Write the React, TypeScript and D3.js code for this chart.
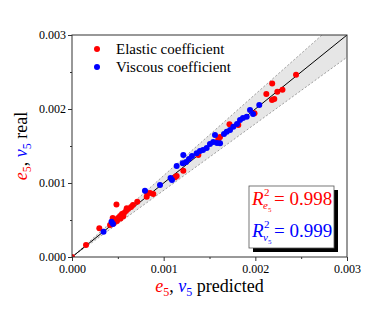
import React, { useRef, useEffect } from 'react';
import * as d3 from 'd3';

// elastic coefficient e5: predicted vs real
const elasticPred = [0, 0.000153, 0.000298, 0.000485, 0.000444, 0.000415, 0.000436, 0.000469, 0.000502, 0.000524,
  0.000545, 0.000567, 0.000589, 0.000611, 0.000644, 0.000597, 0.000665, 0.000712, 0.000815, 0.000821,
  0.000851, 0.000458, 0.000491, 0.00053, 0.00056, 0.000887, 0.001124, 0.001142, 0.001214, 0.001378,
  0.001596, 0.001615, 0.001718, 0.001814, 0.001991, 0.00212, 0.002184, 0.00224, 0.002296, 0.002182,
  0.002207, 0.002444];
const elasticReal = [0, 0.000162, 0.000388, 0.000709, 0.000527, 0.000432, 0.000473, 0.0005, 0.000527, 0.000554,
  0.000581, 0.000595, 0.000622, 0.000649, 0.000676, 0.000658, 0.000703, 0.000747, 0.000815, 0.000861,
  0.000865, 0.000459, 0.000486, 0.00052, 0.00055, 0.000851, 0.001077, 0.001095, 0.001166, 0.001378,
  0.001591, 0.001622, 0.001793, 0.001784, 0.001942, 0.002203, 0.002345, 0.002234, 0.002261, 0.002122,
  0.002135, 0.002464];

// viscous coefficient v5: predicted vs real
const viscousPred = [0.000344, 0.000431, 0.000447, 0.000796, 0.00096, 0.001091, 0.001075, 0.001142, 0.001214, 0.001208,
  0.001244, 0.001276, 0.001309, 0.00136, 0.001396, 0.001429, 0.001469, 0.001505, 0.001541, 0.00156,
  0.001615, 0.001582, 0.001658, 0.001688, 0.001724, 0.00176, 0.0018, 0.001833, 0.001865, 0.001906,
  0.001942, 0.001975, 0.002043];
const viscousReal = [0.000342, 0.000477, 0.000446, 0.000896, 0.000973, 0.001041, 0.001068, 0.00123, 0.001378, 0.001266,
  0.001284, 0.001324, 0.001365, 0.001401, 0.001432, 0.001446, 0.001473, 0.001527, 0.001554, 0.001649,
  0.001537, 0.001541, 0.001662, 0.001693, 0.001716, 0.001761, 0.001797, 0.001851, 0.001878, 0.001896,
  0.001986, 0.001932, 0.002054];

const majorTicks = [0, 0.001, 0.002, 0.003];
const minorTicks = [0.0005, 0.0015, 0.0025];
const bandFactor = [0.9, 1.1];
const legendLabels = ['Elastic coefficient', 'Viscous coefficient'];
const r2Values = ['0.998', '0.999'];

const App = () => {
  const svgRef = useRef<SVGSVGElement>(null);

  useEffect(() => {
    const w = 389;
    const h = 309;
    const m = { left: 72, right: 42, top: 35, bottom: 52 };
    const red = '#ff0000';
    const blue = '#0000ff';
    const font = 'Liberation Serif';

    const svg = d3.select(svgRef.current)
      .attr('width', w)
      .attr('height', h)
      .attr('font-family', font);
    svg.selectAll('*').remove();

    const x = d3.scaleLinear().domain([0, 0.003]).range([m.left, w - m.right]);
    const y = d3.scaleLinear().domain([0, 0.003]).range([h - m.bottom, m.top]);

    svg.append('defs').append('clipPath').attr('id', 'plot-clip')
      .append('rect')
      .attr('x', x(0)).attr('y', y(0.003))
      .attr('width', x(0.003) - x(0)).attr('height', y(0) - y(0.003));

    const plot = svg.append('g').attr('clip-path', 'url(#plot-clip)');

    // ±10% band
    const xmax = 0.003;
    const band = [
      [0, 0], [xmax, xmax * bandFactor[1]], [xmax, xmax * bandFactor[0]],
    ];
    plot.append('path')
      .attr('d', d3.line()(band.map(d => [x(d[0]), y(d[1])]) as [number, number][]) + 'Z')
      .attr('fill', '#e6e6e6');
    bandFactor.forEach(f => {
      plot.append('line')
        .attr('x1', x(0)).attr('y1', y(0))
        .attr('x2', x(xmax)).attr('y2', y(xmax * f))
        .attr('stroke', '#888').attr('stroke-width', 0.8).attr('stroke-dasharray', '2,2');
    });
    plot.append('line')
      .attr('x1', x(0)).attr('y1', y(0))
      .attr('x2', x(xmax)).attr('y2', y(xmax))
      .attr('stroke', '#000').attr('stroke-width', 1);

    // points
    plot.selectAll('.ep')
      .data(elasticPred)
      .join('circle')
      .attr('cx', d => x(d))
      .attr('cy', (d, i) => y(elasticReal[i]))
      .attr('r', 3)
      .attr('fill', red);
    plot.selectAll('.vp')
      .data(viscousPred)
      .join('circle')
      .attr('cx', d => x(d))
      .attr('cy', (d, i) => y(viscousReal[i]))
      .attr('r', 3)
      .attr('fill', blue);

    // frame
    svg.append('rect')
      .attr('x', x(0)).attr('y', y(0.003))
      .attr('width', x(0.003) - x(0)).attr('height', y(0) - y(0.003))
      .attr('fill', 'none').attr('stroke', '#333').attr('stroke-width', 1);

    // axes
    const fmt = d3.format('.3f');
    const xAxis = svg.append('g').attr('transform', `translate(0, ${y(0)})`)
      .call(d3.axisBottom(x).tickValues(majorTicks).tickFormat(d => fmt(d as number)).tickSize(4).tickPadding(3));
    const yAxis = svg.append('g').attr('transform', `translate(${x(0)}, 0)`)
      .call(d3.axisLeft(y).tickValues(majorTicks).tickFormat(d => fmt(d as number)).tickSize(4).tickPadding(2));
    svg.append('g').attr('transform', `translate(0, ${y(0)})`)
      .call(d3.axisBottom(x).tickValues(minorTicks).tickFormat(() => '').tickSize(2));
    svg.append('g').attr('transform', `translate(${x(0)}, 0)`)
      .call(d3.axisLeft(y).tickValues(minorTicks).tickFormat(() => '').tickSize(2));
    svg.selectAll('.domain').remove();
    svg.selectAll('.tick line').attr('stroke', '#333');
    [xAxis, yAxis].forEach(a => {
      a.attr('font-family', font).attr('font-size', 12);
      a.selectAll('text').attr('fill', '#000');
    });

    // legend
    legendLabels.forEach((lab, i) => {
      const ly = 49 + i * 18;
      svg.append('circle').attr('cx', 97).attr('cy', ly).attr('r', 3).attr('fill', i === 0 ? red : blue);
      svg.append('text').attr('x', 116).attr('y', ly + 5)
        .attr('font-family', font).attr('font-size', 15).text(lab);
    });

    // R² box
    const bx = 249, by = 186, bw = 85, bh = 62;
    svg.append('rect').attr('x', bx + 4).attr('y', by + 4).attr('width', bw).attr('height', bh).attr('fill', '#000');
    svg.append('rect').attr('x', bx).attr('y', by).attr('width', bw).attr('height', bh)
      .attr('fill', '#fff').attr('stroke', '#555').attr('stroke-width', 0.8);
    [['e', red], ['v', blue]].forEach(([sym, col], i) => {
      const base = 205 + i * 32;
      svg.append('text').attr('x', bx + 3).attr('y', base)
        .attr('fill', col).attr('font-size', 19).attr('font-style', 'italic').text('R');
      svg.append('text').attr('x', bx + 15).attr('y', base - 9).attr('fill', col)
        .attr('font-size', 11).text('2');
      const s = svg.append('text').attr('x', bx + 14).attr('y', base + 4).attr('fill', col).attr('font-size', 11);
      s.append('tspan').attr('font-style', 'italic').text(sym);
      s.append('tspan').attr('dy', 3).attr('font-size', 7).text('5');
      svg.append('text').attr('x', bx + 25).attr('y', base).attr('fill', col)
        .attr('font-size', 19).text('= ' + r2Values[i]);
    });

    // axis titles
    const title = (g: d3.Selection<SVGTextElement, unknown, null, undefined>, label: string) => {
      g.append('tspan').attr('fill', red).attr('font-style', 'italic').text('e');
      g.append('tspan').attr('fill', red).attr('dy', 4).attr('font-size', 12).text('5');
      g.append('tspan').attr('dy', -4).text(', ');
      g.append('tspan').attr('fill', blue).attr('font-style', 'italic').text('v');
      g.append('tspan').attr('fill', blue).attr('dy', 4).attr('font-size', 12).text('5');
      g.append('tspan').attr('dy', -4).text(' ' + label);
    };
    const xt = svg.append('text')
      .attr('x', (x(0) + x(0.003)) / 2).attr('y', 292)
      .attr('text-anchor', 'middle').attr('font-size', 18);
    title(xt as any, 'predicted');
    const yt = svg.append('text')
      .attr('transform', `translate(27, ${(y(0) + y(0.003)) / 2}) rotate(-90)`)
      .attr('text-anchor', 'middle').attr('font-size', 18);
    title(yt as any, 'real');
  }, []);

  return (
    <div style={{ margin: -8 }}>
      <svg ref={svgRef}></svg>
    </div>
  );
};

export default App;
